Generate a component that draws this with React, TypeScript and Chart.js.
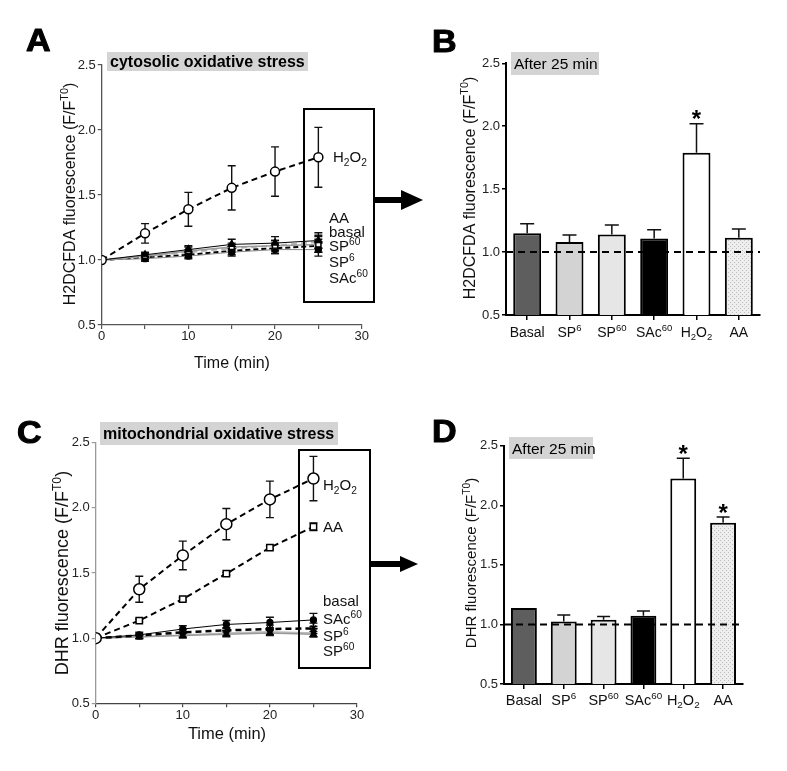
import React, { useEffect, useRef } from 'react';
import { Chart, registerables } from 'chart.js';
Chart.register(...registerables);

const W = 787;
const H = 771;
const FONT = '"Liberation Sans", Arial, Helvetica, sans-serif';

// ---------------- DATA ----------------
const timeMin = [0, 5, 10, 15, 20, 25];
const timeTickValues = [0, 5, 10, 15, 20, 25, 30];
const timeTickLabels = [0, 10, 20, 30];
const yTickValues = [0.5, 1.0, 1.5, 2.0, 2.5];

// Panel A: H2DCFDA (cytosolic) time course
const aH2O2 = [1.0, 1.205, 1.39, 1.555, 1.68, 1.79];
const aH2O2Err = [0, 0.075, 0.13, 0.17, 0.19, 0.23];
const aBasal = [1.0, 1.04, 1.08, 1.12, 1.13, 1.15];
const aBasalErr = [0, 0.02, 0.03, 0.04, 0.05, 0.06];
const aAA = [1.0, 1.03, 1.07, 1.1, 1.11, 1.12];
const aAAErr = [0, 0.02, 0.03, 0.03, 0.04, 0.06];
const aSP60 = [1.0, 1.03, 1.06, 1.09, 1.11, 1.14];
const aSP60Err = [0, 0.02, 0.02, 0.03, 0.04, 0.05];
const aSP6 = [1.0, 1.01, 1.03, 1.06, 1.08, 1.08];
const aSP6Err = [0, 0.02, 0.02, 0.03, 0.03, 0.05];
const aSAc60 = [1.0, 1.02, 1.04, 1.07, 1.09, 1.11];
const aSAc60Err = [0, 0.02, 0.02, 0.03, 0.04, 0.05];

// Panel C: DHR (mitochondrial) time course
const cH2O2 = [1.0, 1.375, 1.635, 1.875, 2.065, 2.225];
const cH2O2Err = [0, 0.1, 0.11, 0.12, 0.14, 0.17];
const cAA = [1.0, 1.135, 1.3, 1.495, 1.695, 1.855];
const cAAErr = [0, 0.01, 0.01, 0.01, 0.012, 0.03];
const cBasal = [1.0, 1.025, 1.07, 1.105, 1.12, 1.14];
const cBasalErr = [0, 0.02, 0.025, 0.03, 0.04, 0.05];
const cSAc60 = [1.0, 1.02, 1.045, 1.06, 1.07, 1.075];
const cSAc60Err = [0, 0.015, 0.02, 0.02, 0.03, 0.04];
const cSP6 = [1.0, 1.01, 1.02, 1.03, 1.04, 1.03];
const cSP6Err = [0, 0.015, 0.02, 0.02, 0.02, 0.02];
const cSP60 = [1.0, 1.01, 1.025, 1.04, 1.05, 1.04];
const cSP60Err = [0, 0.01, 0.015, 0.02, 0.02, 0.03];

// Bars (after 25 min)
const barLabels = ['Basal', 'SP^{6}', 'SP^{60}', 'SAc^{60}', 'H_{2}O_{2}', 'AA'];
const bValues = [1.15, 1.08, 1.14, 1.108, 1.79, 1.113];
const bErr = [0.075, 0.055, 0.075, 0.07, 0.23, 0.07];
const bSignificant = [false, false, false, false, true, false];
const dValues = [1.137, 1.025, 1.04, 1.073, 2.225, 1.853];
const dErr = [0, 0.055, 0.027, 0.04, 0.17, 0.048];
const dSignificant = [false, false, false, false, true, true];

// Line labels in the boxes
const aLineLabels = ['AA', 'basal', 'SP^{60}', 'SP^{6}', 'SAc^{60}'];
const cLineLabels = ['basal', 'SAc^{60}', 'SP^{6}', 'SP^{60}'];

// ---------------- HELPERS ----------------
type Seg = { t: string; k: 'n' | 'sup' | 'sub' };
function parseRich(s: string): Seg[] {
  const segs: Seg[] = [];
  const re = /([\^_])\{([^}]*)\}/g;
  let last = 0;
  let m: RegExpExecArray | null;
  while ((m = re.exec(s))) {
    if (m.index > last) segs.push({ t: s.slice(last, m.index), k: 'n' });
    segs.push({ t: m[2], k: m[1] === '^' ? 'sup' : 'sub' });
    last = re.lastIndex;
  }
  if (last < s.length) segs.push({ t: s.slice(last), k: 'n' });
  return segs;
}

function drawRich(
  ctx: CanvasRenderingContext2D,
  s: string,
  x: number,
  y: number,
  size: number,
  align: 'left' | 'center' | 'right' = 'left',
  weight = 'normal',
  color = '#111'
) {
  const segs = parseRich(s);
  const small = size * 0.68;
  let total = 0;
  for (const sg of segs) {
    ctx.font = `${weight} ${sg.k === 'n' ? size : small}px ${FONT}`;
    total += ctx.measureText(sg.t).width;
  }
  let cx = align === 'center' ? x - total / 2 : align === 'right' ? x - total : x;
  const base = y + size * 0.36;
  ctx.save();
  ctx.fillStyle = color;
  ctx.textAlign = 'left';
  ctx.textBaseline = 'alphabetic';
  for (const sg of segs) {
    ctx.font = `${weight} ${sg.k === 'n' ? size : small}px ${FONT}`;
    const dy = sg.k === 'sup' ? -size * 0.42 : sg.k === 'sub' ? size * 0.22 : 0;
    ctx.fillText(sg.t, cx, base + dy);
    cx += ctx.measureText(sg.t).width;
  }
  ctx.restore();
}

function drawRotated(ctx: CanvasRenderingContext2D, s: string, cx: number, cy: number, size: number) {
  ctx.save();
  ctx.translate(cx, cy);
  ctx.rotate(-Math.PI / 2);
  drawRich(ctx, s, 0, 0, size, 'center');
  ctx.restore();
}

function panelLetter(ctx: CanvasRenderingContext2D, ch: string, x: number, yc: number) {
  const size = 31;
  ctx.save();
  ctx.translate(x, yc);
  ctx.scale(1.1, 1);
  ctx.font = `bold ${size}px ${FONT}`;
  ctx.fillStyle = '#000';
  ctx.strokeStyle = '#000';
  ctx.lineWidth = 1;
  ctx.lineJoin = 'round';
  ctx.textAlign = 'left';
  ctx.textBaseline = 'alphabetic';
  ctx.fillText(ch, 0, size * 0.358);
  ctx.strokeText(ch, 0, size * 0.358);
  ctx.restore();
}

function titleBox(
  ctx: CanvasRenderingContext2D,
  text: string,
  x: number,
  y: number,
  w: number,
  h: number,
  size: number,
  weight: string
) {
  ctx.save();
  ctx.fillStyle = '#d4d4d4';
  ctx.fillRect(x, y, w, h);
  ctx.restore();
  drawRich(ctx, text, x + 3, y + h / 2, size, 'left', weight, '#000');
}

function arrow(ctx: CanvasRenderingContext2D, x0: number, x1: number, xh: number, y: number, shaft: number, head: number) {
  ctx.save();
  ctx.fillStyle = '#000';
  ctx.fillRect(x0, y - shaft / 2, x1 - x0, shaft);
  ctx.beginPath();
  ctx.moveTo(x1, y - head / 2);
  ctx.lineTo(xh, y);
  ctx.lineTo(x1, y + head / 2);
  ctx.closePath();
  ctx.fill();
  ctx.restore();
}

function makeStipple(): CanvasPattern | string {
  const c = document.createElement('canvas');
  c.width = 4;
  c.height = 4;
  const x = c.getContext('2d');
  if (!x) return '#e5e5e5';
  x.fillStyle = '#eeeeee';
  x.fillRect(0, 0, 4, 4);
  x.fillStyle = '#bdbdbd';
  x.fillRect(0, 0, 1, 1);
  x.fillRect(2, 2, 1, 1);
  return x.createPattern(c, 'repeat') || '#e5e5e5';
}

type Frame = { L: number; T: number; R: number; B: number };
const YW = 40;
const XH = 30;
function padFor(f: Frame) {
  return { left: f.L - YW, top: f.T, right: W - f.R, bottom: H - f.B - XH };
}

function lineDs(ys: number[], st: any) {
  return {
    data: timeMin.map((t, i) => ({ x: t, y: ys[i] })),
    tension: 0,
    pointBorderColor: '#000',
    pointBorderWidth: 1.3,
    ...st,
  };
}

function makeLineChart(
  canvas: HTMLCanvasElement,
  f: Frame,
  datasets: any[],
  errs: number[][],
  xAxisColor: string,
  yAxisColor: string,
  draw: (ctx: CanvasRenderingContext2D, chart: any) => void
) {
  const errPlugin = {
    id: 'errbars',
    beforeDatasetsDraw(chart: any) {
      const ctx = chart.ctx as CanvasRenderingContext2D;
      const xs = chart.scales.x;
      const ys = chart.scales.y;
      ctx.save();
      ctx.strokeStyle = '#111';
      ctx.lineWidth = 1.4;
      datasets.forEach((ds, i) => {
        const e = errs[i];
        ds.data.forEach((p: any, j: number) => {
          const er = e[j];
          if (!er) return;
          const x = xs.getPixelForValue(p.x);
          const y1 = ys.getPixelForValue(p.y + er);
          const y2 = ys.getPixelForValue(p.y - er);
          ctx.beginPath();
          ctx.moveTo(x, y1);
          ctx.lineTo(x, y2);
          ctx.moveTo(x - 4, y1);
          ctx.lineTo(x + 4, y1);
          ctx.moveTo(x - 4, y2);
          ctx.lineTo(x + 4, y2);
          ctx.stroke();
        });
      });
      ctx.restore();
    },
  };
  const overlay = {
    id: 'overlay',
    afterDraw(chart: any) {
      draw(chart.ctx, chart);
    },
  };
  return new Chart(canvas, {
    type: 'line',
    data: { datasets },
    options: {
      responsive: false,
      animation: false,
      devicePixelRatio: 1,
      layout: { padding: padFor(f) },
      plugins: { legend: { display: false }, tooltip: { enabled: false } },
      scales: {
        x: {
          type: 'linear',
          min: 0,
          max: 30,
          afterFit: (s: any) => {
            s.height = XH;
          },
          afterBuildTicks: (s: any) => {
            s.ticks = timeTickValues.map((v) => ({ value: v }));
          },
          ticks: {
            autoSkip: false,
            maxRotation: 0,
            padding: 0,
            color: '#222',
            font: { family: FONT, size: 13 },
            callback: (v: any) => (timeTickLabels.includes(Number(v)) ? String(v) : ''),
          },
          grid: { drawOnChartArea: false, tickLength: 4, color: xAxisColor, lineWidth: 1.2 },
          border: { color: xAxisColor, width: 1.3 },
        },
        y: {
          min: 0.5,
          max: 2.5,
          afterFit: (s: any) => {
            s.width = YW;
          },
          afterBuildTicks: (s: any) => {
            s.ticks = yTickValues.map((v) => ({ value: v }));
          },
          ticks: {
            padding: 2,
            color: '#222',
            font: { family: FONT, size: 13 },
            callback: (v: any) => Number(v).toFixed(1),
          },
          grid: { drawOnChartArea: false, tickLength: 4, color: yAxisColor, lineWidth: 1.2 },
          border: { color: yAxisColor, width: 1.3 },
        },
      },
    } as any,
    plugins: [errPlugin, overlay],
  });
}

function makeBarChart(
  canvas: HTMLCanvasElement,
  f: Frame,
  values: number[],
  errs: number[],
  sig: boolean[],
  labelSize: number,
  labelY: number,
  capHalf: number,
  barPct: number,
  draw: (ctx: CanvasRenderingContext2D, chart: any) => void
) {
  const colors = ['#5e5e5e', '#d3d3d3', '#e6e6e6', '#000000', '#ffffff', makeStipple()];
  const plugin = {
    id: 'barExtras',
    afterDatasetsDraw(chart: any) {
      const ctx = chart.ctx as CanvasRenderingContext2D;
      const xs = chart.scales.x;
      const ys = chart.scales.y;
      ctx.save();
      // error bars (upper only)
      ctx.strokeStyle = '#111';
      ctx.lineWidth = 1.5;
      values.forEach((v, i) => {
        const er = errs[i];
        if (!er) return;
        const x = xs.getPixelForValue(i);
        const y0 = ys.getPixelForValue(v);
        const y1 = ys.getPixelForValue(v + er);
        ctx.beginPath();
        ctx.moveTo(x, y0);
        ctx.lineTo(x, y1);
        ctx.moveTo(x - capHalf, y1);
        ctx.lineTo(x + capHalf, y1);
        ctx.stroke();
      });
      // dashed baseline at 1.0
      const yb = ys.getPixelForValue(1.0);
      ctx.strokeStyle = '#000';
      ctx.lineWidth = 2;
      ctx.setLineDash([7, 5]);
      ctx.beginPath();
      ctx.moveTo(chart.chartArea.left, yb);
      ctx.lineTo(chart.chartArea.right, yb);
      ctx.stroke();
      ctx.setLineDash([]);
      // asterisks
      values.forEach((v, i) => {
        if (!sig[i]) return;
        const x = xs.getPixelForValue(i);
        const yt = ys.getPixelForValue(v + errs[i]) - 9.5;
        ctx.font = `bold 24px ${FONT}`;
        ctx.fillStyle = '#000';
        ctx.textAlign = 'center';
        ctx.textBaseline = 'alphabetic';
        ctx.fillText('*', x, yt + 24 * 0.55);
      });
      // category labels
      barLabels.forEach((lab, i) => {
        drawRich(ctx, lab, xs.getPixelForValue(i), labelY, labelSize, 'center', 'normal', '#111');
      });
      ctx.restore();
    },
    afterDraw(chart: any) {
      draw(chart.ctx, chart);
    },
  };
  return new Chart(canvas, {
    type: 'bar',
    data: {
      labels: barLabels,
      datasets: [
        {
          data: values,
          backgroundColor: colors as any,
          borderColor: '#000',
          borderWidth: 2,
          borderSkipped: false,
          barPercentage: barPct,
          categoryPercentage: 1,
        },
      ],
    },
    options: {
      responsive: false,
      animation: false,
      devicePixelRatio: 1,
      layout: { padding: padFor(f) },
      plugins: { legend: { display: false }, tooltip: { enabled: false } },
      scales: {
        x: {
          afterFit: (s: any) => {
            s.height = XH;
          },
          ticks: { callback: () => '' },
          grid: { offset: false, drawOnChartArea: false, tickLength: 5, color: '#000', lineWidth: 1.5 },
          border: { color: '#000', width: 2 },
        },
        y: {
          min: 0.5,
          max: 2.5,
          afterFit: (s: any) => {
            s.width = YW;
          },
          afterBuildTicks: (s: any) => {
            s.ticks = yTickValues.map((v) => ({ value: v }));
          },
          ticks: {
            padding: 2,
            color: '#222',
            font: { family: FONT, size: 13 },
            callback: (v: any) => Number(v).toFixed(1),
          },
          grid: { drawOnChartArea: false, tickLength: 4, color: '#000', lineWidth: 1.5 },
          border: { color: '#000', width: 2 },
        },
      },
    } as any,
    plugins: [plugin],
  });
}

// ---------------- PANELS ----------------
const frameA: Frame = { L: 101.7, T: 65, R: 361.7, B: 325 };
const frameB: Frame = { L: 506, T: 63.3, R: 760, B: 315 };
const frameC: Frame = { L: 95.7, T: 442.7, R: 357, B: 703.3 };
const frameD: Frame = { L: 504, T: 445.7, R: 743, B: 684 };

function buildA(canvas: HTMLCanvasElement) {
  const datasets = [
    lineDs(aH2O2, { borderColor: '#000', borderWidth: 2, borderDash: [6, 4], pointStyle: 'circle', pointRadius: 4.5, pointBackgroundColor: '#fff', pointBorderWidth: 1.5 }),
    lineDs(aBasal, { borderColor: '#000', borderWidth: 1, pointStyle: 'triangle', pointRadius: 4, pointBackgroundColor: '#000' }),
    lineDs(aAA, { borderColor: '#9a9a9a', borderWidth: 1.5, pointStyle: 'rect', pointRadius: 3.5, pointBackgroundColor: '#fff' }),
    lineDs(aSP60, { borderColor: '#b5b5b5', borderWidth: 2, borderDash: [6, 4], pointStyle: 'rectRot', pointRadius: 3.5, pointBackgroundColor: '#000' }),
    lineDs(aSP6, { borderColor: '#888', borderWidth: 1, pointStyle: 'circle', pointRadius: 3, pointBackgroundColor: '#000' }),
    lineDs(aSAc60, { borderColor: '#000', borderWidth: 2, borderDash: [5, 3], pointStyle: 'rect', pointRadius: 3.5, pointBackgroundColor: '#444' }),
  ];
  const errs = [aH2O2Err, aBasalErr, aAAErr, aSP60Err, aSP6Err, aSAc60Err];
  return makeLineChart(canvas, frameA, datasets, errs, '#555', '#555', (ctx) => {
    panelLetter(ctx, 'A', 26, 40);
    titleBox(ctx, 'cytosolic oxidative stress', 107, 52, 201, 19, 16, 'bold');
    drawRotated(ctx, 'H2DCFDA fluorescence (F/F^{T0})', 69, 194, 16);
    drawRich(ctx, 'Time (min)', 232, 362, 16, 'center');
    ctx.save();
    ctx.strokeStyle = '#000';
    ctx.lineWidth = 2;
    ctx.strokeRect(304, 109, 70, 193);
    ctx.restore();
    drawRich(ctx, 'H_{2}O_{2}', 333, 157, 15);
    const ysA = [218, 231.5, 246, 262, 277.5];
    aLineLabels.forEach((l, i) => drawRich(ctx, l, 329, ysA[i], 15));
    arrow(ctx, 374, 401, 423, 200, 6, 20);
  });
}

function buildC(canvas: HTMLCanvasElement) {
  const datasets = [
    lineDs(cH2O2, { borderColor: '#000', borderWidth: 2, borderDash: [6, 4], pointStyle: 'circle', pointRadius: 5.5, pointBackgroundColor: '#fff', pointBorderWidth: 1.5 }),
    lineDs(cAA, { borderColor: '#000', borderWidth: 2, borderDash: [6, 4], pointStyle: 'rect', pointRadius: 4.5, pointBackgroundColor: '#fff', pointBorderWidth: 1.5 }),
    lineDs(cBasal, { borderColor: '#000', borderWidth: 1, pointStyle: 'circle', pointRadius: 3, pointBackgroundColor: '#000' }),
    lineDs(cSAc60, { borderColor: '#000', borderWidth: 2.5, borderDash: [6, 4], pointStyle: 'star', pointRadius: 4, pointBackgroundColor: '#000' }),
    lineDs(cSP6, { borderColor: '#999', borderWidth: 1.5, pointStyle: 'triangle', pointRadius: 3.5, pointBackgroundColor: '#000' }),
    lineDs(cSP60, { borderColor: '#bbb', borderWidth: 1.5, pointStyle: 'rect', pointRadius: 3, pointBackgroundColor: '#000' }),
  ];
  const errs = [cH2O2Err, cAAErr, cBasalErr, cSAc60Err, cSP6Err, cSP60Err];
  return makeLineChart(canvas, frameC, datasets, errs, '#444', '#9a9a9a', (ctx) => {
    panelLetter(ctx, 'C', 17, 432);
    titleBox(ctx, 'mitochondrial oxidative stress', 100, 422, 238, 23, 16, 'bold');
    drawRotated(ctx, 'DHR fluorescence (F/F^{T0})', 62, 573, 18);
    drawRich(ctx, 'Time (min)', 227, 733, 16.5, 'center');
    ctx.save();
    ctx.strokeStyle = '#000';
    ctx.lineWidth = 2;
    ctx.strokeRect(299, 450, 71, 218);
    ctx.restore();
    drawRich(ctx, 'H_{2}O_{2}', 323, 485, 15);
    drawRich(ctx, 'AA', 323, 526.5, 15);
    const ysC = [601, 619, 636, 651];
    cLineLabels.forEach((l, i) => drawRich(ctx, l, 323, ysC[i], 15));
    arrow(ctx, 370, 400, 418, 564, 6, 16);
  });
}

function buildB(canvas: HTMLCanvasElement) {
  return makeBarChart(canvas, frameB, bValues, bErr, bSignificant, 14, 332, 7, 0.66, (ctx) => {
    panelLetter(ctx, 'B', 432, 40.5);
    titleBox(ctx, 'After 25 min', 511, 52, 88, 23, 15.5, 'normal');
    drawRotated(ctx, 'H2DCFDA fluorescence (F/F^{T0})', 469, 188, 16);
  });
}

function buildD(canvas: HTMLCanvasElement) {
  return makeBarChart(canvas, frameD, dValues, dErr, dSignificant, 14.5, 700, 6.5, 0.65, (ctx) => {
    panelLetter(ctx, 'D', 432, 431);
    titleBox(ctx, 'After 25 min', 509, 437, 84, 22, 15.5, 'normal');
    drawRotated(ctx, 'DHR fluorescence (F/F^{T0})', 471, 563, 15);
  });
}

function Layer({ build }: { build: (c: HTMLCanvasElement) => Chart }) {
  const ref = useRef<HTMLCanvasElement>(null);
  useEffect(() => {
    if (!ref.current) return;
    const chart = build(ref.current);
    return () => chart.destroy();
  }, [build]);
  return (
    <canvas
      ref={ref}
      width={W}
      height={H}
      style={{ position: 'absolute', left: 0, top: 0, width: W, height: H, display: 'block' }}
    />
  );
}

export default function App() {
  return (
    <div style={{ position: 'absolute', left: 0, top: 0, width: W, height: H, background: '#fff', overflow: 'hidden' }}>
      <Layer build={buildA} />
      <Layer build={buildB} />
      <Layer build={buildC} />
      <Layer build={buildD} />
    </div>
  );
}
